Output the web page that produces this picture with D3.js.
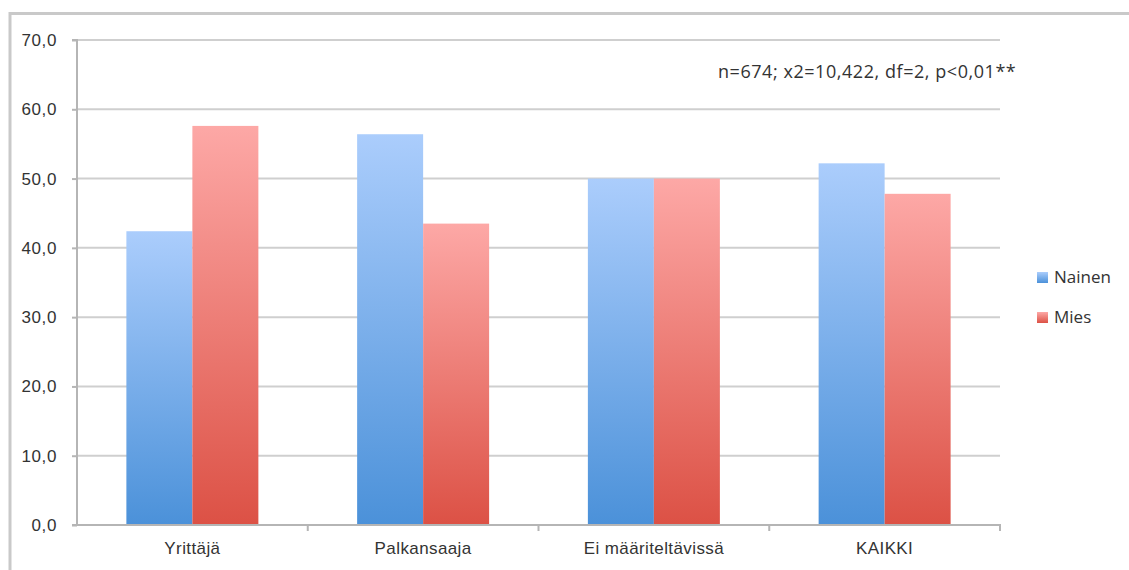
<!DOCTYPE html>
<html>
<head>
<meta charset="utf-8">
<script src="https://cdn.jsdelivr.net/npm/d3@7"></script>
<style>
  html, body { margin: 0; padding: 0; background: #fff; }
  svg { display: block; font-family: "Open Sans", "Liberation Sans", sans-serif; }
</style>
</head>
<body>
<svg id="chart" width="1129" height="570"></svg>
<script>
const categories = ["Yrittäjä", "Palkansaaja", "Ei määriteltävissä", "KAIKKI"];
const seriesNames = ["Nainen", "Mies"];
const nainen = [42.4, 56.4, 50.0, 52.2];
const mies = [57.6, 43.5, 50.0, 47.8];
const yTicks = [0, 10, 20, 30, 40, 50, 60, 70];
const annotation = "n=674; x2=10,422, df=2, p<0,01**";

const svg = d3.select("#chart");
const W = 1129, H = 570;
const x0 = 77, x1 = 1000, yTop = 40, yBot = 525;

// outer frame
svg.append("path")
  .attr("d", `M10,${H + 5} L10,13.5 L${W + 5},13.5`)
  .attr("fill", "none").attr("stroke", "#c9c9c9").attr("stroke-width", 3);

const defs = svg.append("defs");
const grads = [
  { id: "gBlue", top: "#abcdfc", bot: "#4b91d9" },
  { id: "gRed", top: "#fda8a6", bot: "#dc5145" }
];
grads.forEach(g => {
  const lg = defs.append("linearGradient").attr("id", g.id)
    .attr("x1", 0).attr("y1", 0).attr("x2", 0).attr("y2", 1);
  lg.append("stop").attr("offset", "0%").attr("stop-color", g.top);
  lg.append("stop").attr("offset", "100%").attr("stop-color", g.bot);
});

const y = d3.scaleLinear().domain([0, 70]).range([yBot, yTop]);
const x = d3.scaleBand().domain(categories).range([x0, x1])
  .paddingInner(0.428).paddingOuter(0.214);
const xs = d3.scaleBand().domain(seriesNames).range([0, x.bandwidth()]);

// gridlines
svg.append("g").selectAll("line").data(yTicks.filter(t => t > 0)).join("line")
  .attr("x1", x0).attr("x2", x1)
  .attr("y1", d => y(d)).attr("y2", d => y(d))
  .attr("stroke", "#cfcfcf").attr("stroke-width", 2);

// y axis
const yAxis = d3.axisLeft(y).tickValues(yTicks).tickSize(5).tickPadding(15)
  .tickFormat(d => d3.format(".1f")(d).replace(".", ","));
const gy = svg.append("g").attr("transform", `translate(${x0},0)`).call(yAxis);
gy.select(".domain").attr("stroke", "#b5b5b5").attr("stroke-width", 2).attr("d", `M-5,${yTop}H0V${yBot}H-5`);
gy.selectAll(".tick line").attr("stroke", "#b5b5b5").attr("stroke-width", 2);
gy.selectAll(".tick text").attr("fill", "#333").attr("font-size", 17).attr("letter-spacing", 0.6);

// bars
const data = seriesNames.map((s, i) => ({ name: s, values: i === 0 ? nainen : mies, grad: grads[i].id }));
data.forEach(s => {
  svg.append("g").selectAll("rect").data(categories).join("rect")
    .attr("x", c => x(c) + xs(s.name))
    .attr("width", xs.bandwidth())
    .attr("y", (c, i) => y(s.values[i]))
    .attr("height", (c, i) => yBot - y(s.values[i]))
    .attr("fill", `url(#${s.grad})`);
});

// x axis
const xAxis = d3.axisBottom(x).tickSize(0).tickPadding(17);
const gx = svg.append("g").attr("transform", `translate(0,${yBot})`).call(xAxis);
gx.select(".domain").attr("stroke", "#b5b5b5").attr("stroke-width", 2).attr("d", `M${x0},0H${x1}V6`);
gx.selectAll(".tick text").attr("fill", "#333").attr("font-size", 17).attr("letter-spacing", 0.4);
// category separators
const step = x.step();
svg.append("g").selectAll("line").data(d3.range(1, categories.length)).join("line")
  .attr("x1", i => x0 + i * step).attr("x2", i => x0 + i * step)
  .attr("y1", yBot).attr("y2", yBot + 6)
  .attr("stroke", "#b5b5b5").attr("stroke-width", 2);

// annotation
svg.append("text").attr("x", 718).attr("y", 78).attr("font-size", 18).attr("letter-spacing", 0.55).attr("fill", "#333")
  .text(annotation);

// legend
const lg = svg.append("g");
data.forEach((s, i) => {
  const ly = 277 + i * 40;
  lg.append("rect").attr("x", 1037).attr("y", ly - 5).attr("width", 11).attr("height", 11)
    .attr("fill", `url(#${s.grad})`);
  lg.append("text").attr("x", 1054).attr("y", ly + 6).attr("font-size", 17).attr("fill", "#333")
    .text(s.name);
});
</script>
</body>
</html>
